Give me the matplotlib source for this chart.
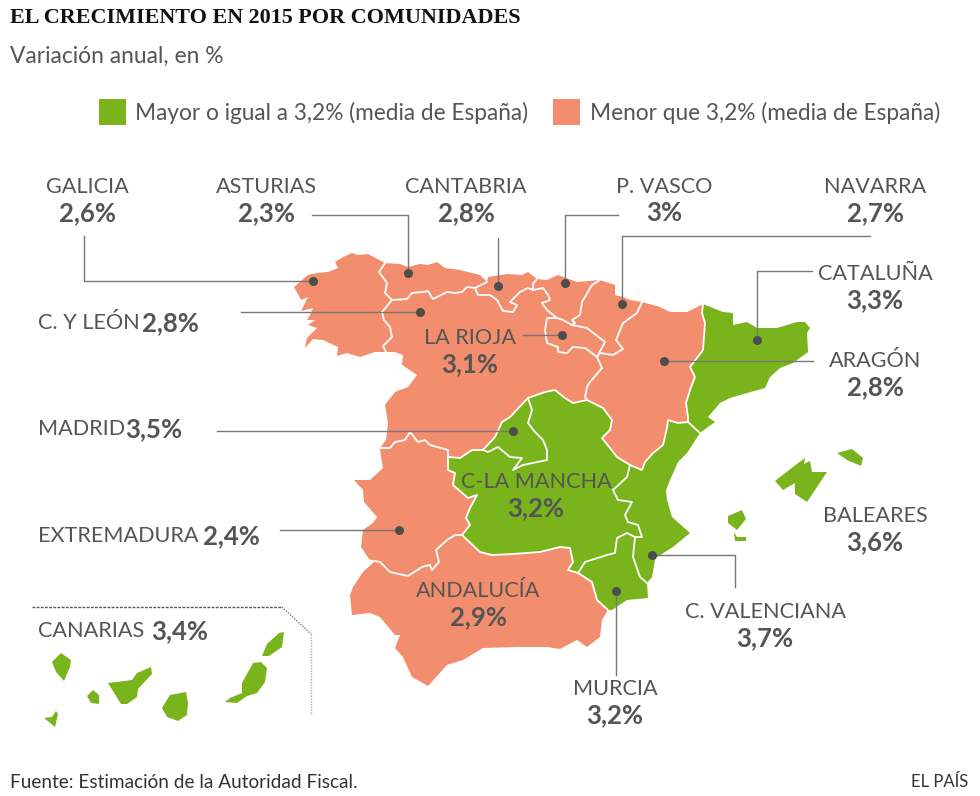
import matplotlib
matplotlib.use("Agg")
import matplotlib.pyplot as plt
from matplotlib.patches import Polygon, Rectangle

# growth 2015 by region, spanish average as threshold
names = ["GALICIA", "ASTURIAS", "CANTABRIA", "P. VASCO", "NAVARRA", "CATALUÑA", "C. Y LEÓN",
         "LA RIOJA", "ARAGÓN", "MADRID", "C-LA MANCHA", "BALEARES", "EXTREMADURA",
         "C. VALENCIANA", "ANDALUCÍA", "MURCIA", "CANARIAS"]
values = [2.6, 2.3, 2.8, 3, 2.7, 3.3, 2.8, 3.1, 2.8, 3.5, 3.2, 3.6, 2.4, 3.7, 2.9, 3.2, 3.4]
media = 3.2

title = "EL CRECIMIENTO EN 2015 POR COMUNIDADES"
subtitle = "Variación anual, en %"
legend_labels = ["Mayor o igual a 3,2% (media de España)", "Menor que 3,2% (media de España)"]
source = "Fuente: Estimación de la Autoridad Fiscal."
credit = "EL PAÍS"

# outlines, shared borders kept in pieces
gal_ast = [(385, 263), (379, 272), (387, 283), (385, 293), (392, 300)]
gal_cyl = [(392, 300), (382, 312), (384, 320), (390, 327), (392, 337), (383, 346), (386, 352)]
ast_cyl = [(392, 300), (407, 299), (412, 293), (422, 292), (428, 291), (433, 299), (447, 292),
           (455, 293), (462, 292), (467, 287), (475, 288)]
ast_can = [(475, 288), (487, 282)]
can_cyl = [(475, 288), (478, 295), (490, 295), (497, 300), (503, 311), (513, 312), (517, 305),
           (510, 302), (520, 292), (528, 288), (533, 290)]
can_pv = [(533, 290), (533, 284), (537, 279)]
pv_cyl = [(533, 290), (543, 288), (548, 295), (550, 300), (542, 303), (547, 310), (557, 318)]
cyl_rio = [(557, 318), (547, 318), (545, 330), (547, 343), (558, 347), (558, 352), (567, 353),
           (573, 347), (585, 348), (597, 357)]
pv_rio = [(557, 318), (563, 320), (572, 325)]
pv_nav = [(600, 280), (592, 285), (582, 302), (580, 315), (572, 320), (575, 323), (572, 325)]
rio_nav = [(572, 325), (587, 328), (605, 342), (597, 357)]
nav_ara = [(642, 302), (637, 313), (623, 323), (616, 340), (623, 349), (613, 355), (600, 353), (597, 357)]
cyl_ara = [(597, 357), (602, 368), (590, 382), (587, 387), (585, 397), (587, 400)]
ara_clm = [(587, 400), (603, 408), (612, 420), (610, 430), (602, 438), (610, 448), (617, 457), (630, 465)]
cyl_clm = [(528, 398), (545, 392), (555, 390), (565, 398), (573, 403), (587, 400)]
cyl_mad = [(528, 398), (510, 417), (502, 422), (495, 437), (483, 450)]
mad_clm = [(483, 450), (488, 452), (498, 447), (510, 457), (522, 458), (513, 470), (523, 465),
           (547, 460), (547, 450), (543, 440), (535, 432), (528, 423), (532, 410), (528, 398)]
cyl_clm2 = [(448, 457), (460, 458), (472, 450), (483, 450)]
cyl_ext = [(448, 457), (448, 450), (430, 445), (425, 440), (418, 442), (410, 432), (405, 440),
           (395, 442), (390, 448), (380, 448)]
ext_clm = [(448, 457), (448, 470), (455, 473), (453, 485), (468, 498), (477, 495), (470, 508),
           (466, 518), (470, 525), (462, 535)]
ext_and = [(462, 535), (455, 535), (447, 540), (436, 550), (439, 562), (432, 570), (430, 565),
           (422, 567), (408, 576), (390, 572), (380, 562), (375, 561)]
and_clm = [(462, 535), (480, 552), (492, 555), (513, 554), (540, 552), (560, 547), (570, 548),
           (573, 562), (568, 570), (578, 573)]
clm_mur = [(578, 573), (585, 562), (607, 555), (615, 553), (617, 538), (627, 533), (635, 537)]
clm_val = [(630, 465), (627, 477), (613, 490), (618, 500), (632, 502), (625, 515), (628, 522),
           (638, 525), (642, 537), (635, 537)]
and_mur = [(578, 573), (592, 582), (597, 600), (608, 610)]
mur_val = [(635, 537), (633, 557), (640, 577), (647, 583)]
ara_val = [(630, 465), (642, 470), (645, 462), (653, 453), (663, 445), (667, 428), (668, 420),
           (678, 423), (688, 422)]
ara_cat = [(703, 304), (702, 313), (705, 323), (703, 350), (690, 367), (695, 377), (691, 387),
           (686, 403), (688, 417), (688, 422)]
cat_val = [(688, 422), (700, 433)]

borders = [gal_ast, gal_cyl, ast_cyl, ast_can, can_cyl, can_pv, pv_cyl, cyl_rio, pv_rio, pv_nav,
           rio_nav, nav_ara, cyl_ara, ara_clm, cyl_clm, cyl_mad, mad_clm, cyl_clm2, cyl_ext,
           ext_clm, ext_and, and_clm, clm_mur, clm_val, and_mur, mur_val, ara_val, ara_cat, cat_val]

# coasts and frontiers
coast_gal = [(386, 352), (375, 352), (360, 357), (347, 353), (337, 356), (338, 347), (323, 340),
             (313, 339), (305, 348), (307, 338), (317, 328), (308, 325), (315, 320), (307, 320),
             (310, 315), (313, 308), (301, 311), (308, 297), (301, 300), (300, 298), (294, 287),
             (308, 275), (317, 273), (328, 272), (338, 268), (335, 262), (343, 257), (352, 253),
             (358, 255), (368, 254), (385, 263)]
coast_ast = [(385, 263), (400, 264), (408, 267), (420, 264), (428, 265), (437, 262), (445, 268),
             (460, 270), (480, 275), (487, 282)]
coast_can = [(487, 282), (488, 277), (507, 274), (522, 275), (528, 272), (537, 279)]
coast_pv = [(537, 279), (547, 280), (558, 275), (577, 282), (600, 280)]
coast_nav = [(600, 280), (615, 285), (615, 295), (623, 297), (630, 300), (642, 302)]
coast_ara = [(642, 302), (660, 307), (670, 312), (687, 312), (703, 304)]
coast_cat = [(703, 304), (723, 312), (733, 313), (733, 325), (747, 322), (757, 328), (777, 328),
             (787, 325), (797, 322), (805, 322), (810, 328), (807, 333), (808, 352), (793, 363),
             (780, 368), (770, 377), (765, 388), (747, 393), (730, 398), (720, 403), (708, 417),
             (715, 422), (708, 427), (700, 433)]
coast_val = [(700, 433), (687, 453), (678, 462), (670, 480), (666, 490), (667, 500), (672, 517),
             (690, 533), (673, 547), (657, 557), (655, 560), (652, 577), (647, 583)]
coast_mur = [(647, 583), (648, 598), (627, 600), (612, 610), (608, 610)]
coast_and = [(608, 610), (602, 620), (600, 637), (587, 647), (577, 640), (560, 649), (547, 647),
             (517, 647), (483, 648), (463, 660), (447, 665), (428, 686), (412, 677), (403, 657),
             (395, 648), (400, 635), (395, 635), (380, 617), (370, 613), (352, 615), (350, 595),
             (353, 587), (363, 572), (375, 561)]
coast_ext = [(375, 561), (369, 559), (361, 547), (363, 530), (373, 523), (377, 517), (364, 502),
             (363, 490), (354, 480), (370, 480), (383, 468), (380, 450), (380, 448)]
coast_cyl = [(380, 448), (386, 440), (388, 423), (385, 405), (395, 392), (408, 387), (417, 375),
             (402, 365), (403, 355), (395, 352), (386, 352)]


def ring(*parts):
    pts = []
    for part in parts:
        pts.extend(part)
    return pts


outlines = {
    "GALICIA": [ring(gal_ast, gal_cyl, coast_gal)],
    "ASTURIAS": [ring(coast_ast, ast_can[::-1], ast_cyl[::-1], gal_ast[::-1])],
    "CANTABRIA": [ring(coast_can, can_pv[::-1], can_cyl[::-1], ast_can)],
    "P. VASCO": [ring(coast_pv, pv_nav, pv_rio[::-1], pv_cyl[::-1], can_pv)],
    "NAVARRA": [ring(coast_nav, nav_ara, rio_nav[::-1], pv_nav[::-1])],
    "LA RIOJA": [ring(cyl_rio[:1], pv_rio, rio_nav, cyl_rio[::-1])],
    "C. Y LEÓN": [ring(ast_cyl, can_cyl, pv_cyl[1:], cyl_rio[1:], cyl_ara[1:], cyl_clm[::-1][1:],
                       cyl_mad[1:], cyl_clm2[::-1][1:], cyl_ext[1:], coast_cyl[1:], gal_cyl[::-1][:-1])],
    "ARAGÓN": [ring(coast_ara, ara_cat, ara_val[::-1], ara_clm[::-1], cyl_ara[::-1], nav_ara[::-1])],
    "CATALUÑA": [ring(coast_cat, cat_val[::-1], ara_cat[::-1])],
    "MADRID": [ring(cyl_mad, mad_clm)],
    "C-LA MANCHA": [ring(cyl_clm2, mad_clm, cyl_clm[1:], ara_clm[1:], clm_val[1:], clm_mur[::-1][1:],
                         and_clm[::-1][1:], ext_clm[::-1][1:])],
    "EXTREMADURA": [ring(cyl_ext, coast_ext[::-1], ext_and[::-1], ext_clm[::-1])],
    "ANDALUCÍA": [ring(ext_and, coast_and[::-1], and_mur[::-1], and_clm[::-1])],
    "MURCIA": [ring(clm_mur, mur_val, coast_mur, and_mur[::-1])],
    "C. VALENCIANA": [ring(ara_val, cat_val, coast_val, mur_val[::-1], clm_val[::-1])],
    "BALEARES": [
        [(775, 481), (793, 467), (805, 458), (804, 464), (810, 461), (812, 472), (827, 472),
         (807, 502), (795, 494), (795, 483), (783, 490)],
        [(837, 453), (852, 449), (863, 458), (861, 466), (847, 460)],
        [(728, 516), (742, 510), (746, 519), (737, 530), (728, 523)],
        [(734, 532), (737, 537), (746, 537), (746, 541), (735, 541)],
    ],
    "CANARIAS": [
        [(279, 633), (284, 632), (282, 647), (269, 656), (262, 656), (267, 644)],
        [(253, 663), (261, 662), (267, 668), (265, 682), (257, 693), (247, 696), (237, 703),
         (225, 702), (230, 698), (242, 693), (242, 683)],
        [(170, 695), (186, 692), (188, 703), (187, 715), (178, 721), (167, 717), (162, 708)],
        [(108, 683), (132, 680), (137, 673), (151, 667), (152, 674), (138, 689), (137, 697),
         (127, 704), (121, 704)],
        [(93, 690), (99, 695), (99, 704), (91, 703), (87, 696)],
        [(61, 653), (71, 660), (70, 667), (64, 681), (56, 672), (52, 662)],
        [(44, 718), (52, 717), (56, 711), (58, 714), (55, 727)],
    ],
}

GREEN = "#7ab41d"
PINK = "#f28e6e"
GREY = "#555555"
SANS = "Lato"

fig = plt.figure(figsize=(9.8, 7.96), dpi=100)
ax = fig.add_axes([0, 0, 1, 1])
ax.set_xlim(0, 980)
ax.set_ylim(796, 0)
ax.axis("off")

for name, value in zip(names, values):
    color = GREEN if value >= media else PINK
    for pts in outlines[name]:
        ax.add_patch(Polygon(pts, closed=True, facecolor=color, edgecolor="none", zorder=2))

# white lines only between regions, the coast stays clean
for border in borders:
    ax.plot([p[0] for p in border], [p[1] for p in border], color="white", lw=1.3, zorder=2.5,
            solid_joinstyle="round", solid_capstyle="round")

# leader lines: polyline then dot at the end
leaders = [
    [(84, 236), (84, 281), (313, 281)],
    [(312, 215), (408, 215), (408, 273)],
    [(498, 238), (498, 286)],
    [(618, 215), (565, 215), (565, 283)],
    [(870, 236), (622, 236), (622, 304)],
    [(812, 271), (757, 271), (757, 340)],
    [(813, 361), (664, 361)],
    [(241, 312), (420, 312)],
    [(523, 335), (562, 335)],
    [(217, 431), (513, 431)],
    [(280, 530), (399, 530)],
    [(735, 587), (735, 555), (652, 555)],
    [(616, 675), (616, 591)],
]
for line in leaders:
    ax.plot([p[0] for p in line], [p[1] for p in line], color="#777777", lw=1, zorder=3)
    ax.plot(line[-1][0], line[-1][1], "o", color="#4d4d4d", ms=6.5, mec="none", zorder=4)

fmt = {n: f"{v:g}%".replace(".", ",") for n, v in zip(names, values)}

# labels on two lines: centre x, y of name, y of value
stacked = {
    "GALICIA": (87, 187, 213), "ASTURIAS": (266, 187, 213), "CANTABRIA": (466, 187, 213),
    "P. VASCO": (664, 187, 213), "NAVARRA": (875, 187, 213), "CATALUÑA": (875, 274, 300),
    "ARAGÓN": (875, 361, 387), "LA RIOJA": (470, 338, 364), "C-LA MANCHA": (536, 482, 508),
    "BALEARES": (875, 516, 542), "ANDALUCÍA": (478, 591, 617), "C. VALENCIANA": (765, 612, 638),
    "MURCIA": (615, 689, 715),
}
for name, (x, y1, y2) in stacked.items():
    ax.text(x, y1, name, family=SANS, fontsize=15.6, color=GREY, ha="center", va="center", zorder=5)
    ax.text(x, y2, fmt[name], family=SANS, fontsize=18.5, weight="bold", color=GREY, ha="center",
            va="center", zorder=5)

# labels on one line: left of name, right of value, y
inline = {
    "C. Y LEÓN": (38, 199, 323), "MADRID": (38, 182, 429),
    "EXTREMADURA": (38, 260, 536), "CANARIAS": (38, 208, 631),
}
for name, (x1, x2, y) in inline.items():
    ax.text(x1, y, name, family=SANS, fontsize=15.6, color=GREY, ha="left", va="center", zorder=5)
    ax.text(x2, y, fmt[name], family=SANS, fontsize=18.5, weight="bold", color=GREY, ha="right",
            va="center", zorder=5)

# canarias inset frame
ax.plot([32, 282], [607, 607], color="#555555", lw=1, ls=(0, (2, 1)))
ax.plot([282, 311], [607, 634], color="#777777", lw=1, ls=(0, (1, 1)))
ax.plot([311, 311], [634, 715], color="#aaaaaa", lw=1, ls=(0, (1, 1)))

ax.text(10, 18, title, family="Liberation Serif", weight="bold", fontsize=15.9, color="#111111",
        ha="left", va="center")
ax.text(10, 56, subtitle, family=SANS, fontsize=16.4, color=GREY, ha="left", va="center")

ax.add_patch(Rectangle((99, 99), 27, 26, facecolor=GREEN, edgecolor="none"))
ax.text(135, 113, legend_labels[0], family=SANS, fontsize=16.3, color=GREY, ha="left", va="center")
ax.add_patch(Rectangle((553, 99), 27, 26, facecolor=PINK, edgecolor="none"))
ax.text(590, 113, legend_labels[1], family=SANS, fontsize=16.3, color=GREY, ha="left", va="center")

ax.text(10, 782, source, family=SANS, fontsize=13.7, color="#333333", ha="left", va="center")
ax.text(968, 782, credit, family=SANS, fontsize=12, color="#333333", ha="right", va="center")

fig.savefig("out.png", dpi=100)
